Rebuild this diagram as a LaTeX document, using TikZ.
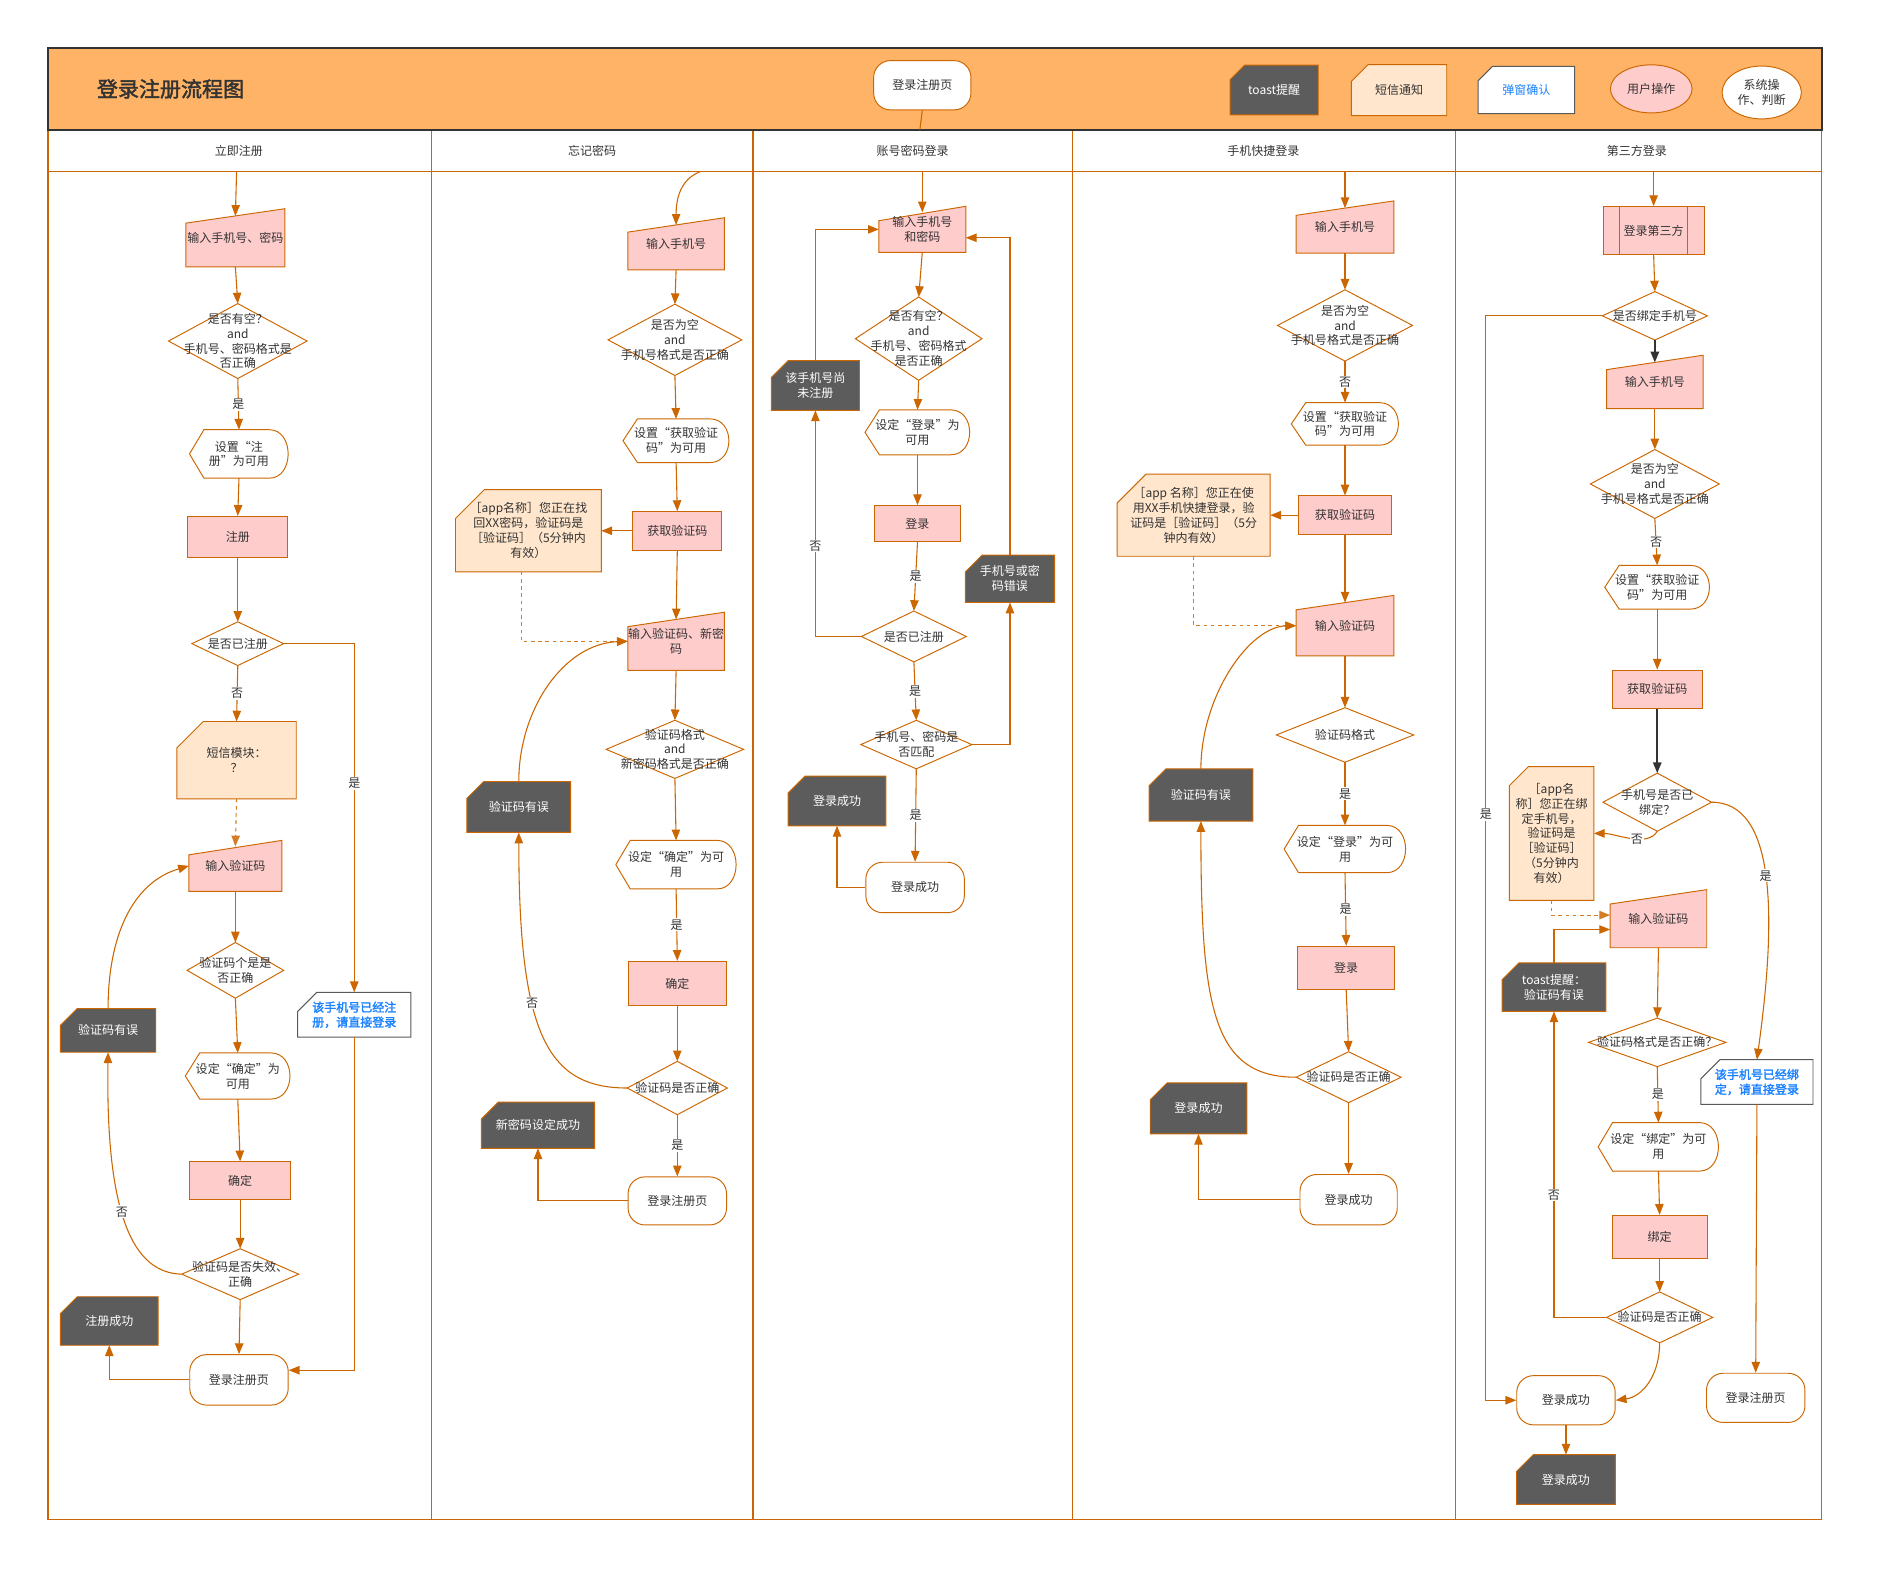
\documentclass[tikz,border=0pt]{standalone}
\usepackage{fontspec}
\setmainfont{Noto Sans CJK SC}
\newfontfamily\boldcjk[FakeBold=2]{Noto Sans CJK SC}
\usetikzlibrary{arrows.meta,shapes.geometric,calc}
\pgfdeclarelayer{bg}
\pgfsetlayers{bg,main}
\definecolor{lineor}{HTML}{CC6600}
\definecolor{hdrc}{HTML}{FFB366}
\definecolor{hdrline}{HTML}{333333}
\definecolor{pinkc}{HTML}{FFCCCC}
\definecolor{peachc}{HTML}{FFE6CC}
\definecolor{toastc}{HTML}{5C5C5C}
\definecolor{bluec}{HTML}{1A82FF}
\definecolor{txt}{HTML}{333333}
\definecolor{darkc}{HTML}{333333}

\begin{document}
\begin{tikzpicture}[x=1pt, y=-1pt,
    every node/.style={font=\fontsize{10}{12.4}\selectfont, text=txt},
    base/.style={inner sep=0pt, align=center},
    sz/.style 2 args={minimum width=#1, minimum height=#2},
    proc/.style={base, draw=lineor, fill=pinkc, line width=0.8pt},
    term/.style={base, draw=lineor, fill=white, rounded corners=14pt, line width=0.8pt},
    manual/.style={base},
    dia/.style={base},
    disp/.style={base},
    sms/.style={base},
    toast/.style={base, text=white},
    popup/.style={base, text=bluec, font=\boldcjk\fontsize{10}{12.4}\selectfont},
    usr/.style={base, ellipse, draw=lineor, fill=pinkc, line width=0.8pt},
    sysop/.style={base, ellipse, draw=lineor, fill=white, line width=0.8pt},
    shp/.style={draw=lineor, line width=0.8pt},
    lane/.style={draw=lineor, line width=0.9pt},
    arr/.style={-{Triangle[length=9pt,width=7pt]}, draw=lineor, line width=0.9pt},
    dark/.style={arr, draw=darkc, line width=1.6pt},
    dashln/.style={arr, dashed, draw=lineor!85},
    lbl/.style={fill=white, inner sep=1pt}
]
\useasboundingbox (0,0) rectangle (1568,1316);

% frame and header
\begin{pgfonlayer}{bg}
\draw[lane] (40,108) rectangle (1517,1265);
\draw[lane] (40,143) -- (1517,143);
\foreach \x in {359,627,893,1212}
    \draw[lane] (\x,108) -- (\x,1265);
\fill[hdrc] (40,40) rectangle (1517,108);
\draw[line width=1.6pt, draw=hdrline] (40,40) rectangle (1517,108);
\end{pgfonlayer}

\node[font=\boldcjk\fontsize{17.5}{20}\selectfont] (ttl) at (142,74) {登录注册流程图};
\node[term, sz={81}{41}] (hpage) at (768,71) {登录注册页};
\coordinate (hbot) at (766,108);
\draw[lineor, line width=0.9pt] (hpage.south) -- (hbot);

% legend
\node[toast, sz={73}{41}] (lgToast) at (1061,75) {toast提醒};
\node[sms, sz={79}{42}] (lgSms) at (1165,75) {短信通知};
\node[popup, sz={80}{39}, font=\fontsize{10}{12.4}\selectfont] (lgPop) at (1271,75) {弹窗确认};
\node[usr, sz={68}{40}] (lgUser) at (1375,74) {用户操作};
\node[sysop, sz={66}{44}] (lgSys) at (1467,77) {系统操\\作、判断};

% lane titles
\node (ln1) at (199,126) {立即注册};
\node (ln2) at (493,126) {忘记密码};
\node (ln3) at (760,126) {账号密码登录};
\node (ln4) at (1052,126) {手机快捷登录};
\node (ln5) at (1363,126) {第三方登录};

% ---- 立即注册
\coordinate (t1) at (197,143);
\node[manual, sz={82}{48}] (a1) at (196,198) {输入手机号、密码};
\node[dia, sz={115}{62}] (a2) at (198,284) {是否有空？\\and\\手机号、密码格式是\\否正确};
\node[disp, sz={82}{40}] (a3) at (199,378) {设置“注\\册”为可用};
\node[proc, sz={83}{34}] (a4) at (198,447) {注册};
\node[dia, sz={76}{36}] (a5) at (198,536) {是否已注册};
\node[sms, sz={99}{64}] (a6) at (197,633) {短信模块：\\？};
\node[manual, sz={77}{42}] (a7) at (196,721) {输入验证码};
\node[dia, sz={80}{46}] (a8) at (196,808) {验证码个是是\\否正确};
\node[disp, sz={87}{38}] (a9) at (198,896) {设定“确定”为\\可用};
\node[proc, sz={84}{31}] (a10) at (200,983) {确定};
\node[dia, sz={97}{42}] (a11) at (200,1061) {验证码是否失效、\\正确};
\node[term, sz={82}{42}] (a12) at (199,1149) {登录注册页};
\node[toast, sz={81}{40}] (a13) at (91,1100) {注册成功};
\node[toast, sz={79}{36}] (a14) at (90,858) {验证码有误};
\node[popup, sz={94}{37}] (a15) at (295,845) {该手机号已经注\\册，请直接登录};

\draw[arr] (t1) -- ([yshift=-6pt]a1.north);
\draw[arr] (a1.south) -- (a2.north);
\draw[arr] (a2.south) -- node[lbl] (a2y) {是} (a3.north);
\draw[arr] (a3.south) -- (a4.north);
\draw[arr] (a4.south) -- (a5.north);
\draw[arr] (a5.south) -- node[lbl] (a5n) {否} (a6.north);
\draw[dashln] (a6.south) -- ([yshift=-5pt]a7.north);
\draw[arr] (a7.south) -- (a8.north);
\draw[arr] (a8.south) -- (a9.north);
\draw[arr] (a9.south) -- (a10.north);
\draw[arr] (a10.south) -- (a11.north);
\draw[arr] (a11.south) -- (a12.north);
\draw[arr] (a12.west) -| (a13.south);
\draw[arr] (a5.east) -| node[lbl, pos=0.7] (a5y) {是} (a15.north);
\draw[arr] (a15.south) |- ([yshift=8pt]a12.east);
\draw[arr] (a11.west) .. controls (110,1060) and (88,1010) .. node[lbl, pos=0.55] (a11n) {否} (a14.south);
\draw[arr] (a14.north) .. controls (90,780) and (110,735) .. (a7.west);

% ---- 忘记密码
\coordinate (t2) at (583,143);
\node[manual, sz={80}{43}] (b1) at (563,203) {输入手机号};
\node[dia, sz={111}{59}] (b2) at (562,283) {是否为空\\and\\手机号格式是否正确};
\node[disp, sz={88}{36}] (b3) at (563,367) {设置“获取验证\\码”为可用};
\node[proc, sz={74}{32}] (b4) at (564,442) {获取验证码};
\node[sms, sz={121}{68}] (b5) at (440,442) {［app名称］您正在找\\回XX密码，验证码是\\［验证码］（5分钟内\\有效）};
\node[manual, sz={80}{48}] (b6) at (563,534) {输入验证码、新密\\码};
\node[dia, sz={114}{48}] (b7) at (562,624) {验证码格式\\and\\新密码格式是否正确};
\node[disp, sz={100}{40}] (b8) at (563,720) {设定“确定”为可\\用};
\node[proc, sz={82}{37}] (b9) at (564,819) {确定};
\node[dia, sz={83}{44}] (b10) at (564,906) {验证码是否正确};
\node[term, sz={82}{40}] (b11) at (564,1000) {登录注册页};
\node[toast, sz={94}{38}] (b12) at (448,937) {新密码设定成功};
\node[toast, sz={86}{42}] (b13) at (432,672) {验证码有误};

\draw[arr] (t2) .. controls (570,148) and (563,160) .. ([yshift=-6pt]b1.north);
\draw[arr] (b1.south) -- (b2.north);
\draw[arr] (b2.south) -- (b3.north);
\draw[arr] (b3.south) -- (b4.north);
\draw[arr] (b4.west) -- (b5.east);
\draw[arr] (b4.south) -- ([yshift=-6pt]b6.north);
\draw[dashln] ([xshift=-6pt]b5.south) |- (b6.west);
\draw[arr] (b6.south) -- (b7.north);
\draw[arr] (b7.south) -- (b8.north);
\draw[arr] (b8.south) -- node[lbl] (b8y) {是} (b9.north);
\draw[arr] (b9.south) -- (b10.north);
\draw[arr] (b10.south) -- node[lbl] (b10y) {是} (b11.north);
\draw[arr] (b11.west) -| (b12.south);
\draw[arr] (b10.west) .. controls (455,906) and (432,860) .. node[lbl, pos=0.62] (b10n) {否} (b13.south);
\draw[arr] (b13.north) .. controls (432,590) and (470,536) .. (b6.west);

% ---- 账号密码登录
\coordinate (t3) at (768,143);
\node[manual, sz={72}{38}] (c1) at (768,191) {输入手机号\\和密码};
\node[dia, sz={105}{69}] (c2) at (765,282) {是否有空？\\and\\手机号、密码格式\\是否正确};
\node[disp, sz={87}{37}] (c3) at (764,360) {设定“登录”为\\可用};
\node[proc, sz={72}{30}] (c4) at (764,436) {登录};
\node[dia, sz={87}{42}] (c5) at (761,530) {是否已注册};
\node[toast, sz={73}{41}] (c6) at (679,321) {该手机号尚\\未注册};
\node[dia, sz={92}{40}] (c7) at (763,620) {手机号、密码是\\否匹配};
\node[toast, sz={74}{39}] (c8) at (841,482) {手机号或密\\码错误};
\node[term, sz={82}{42}] (c9) at (762,739) {登录成功};
\node[toast, sz={81}{41}] (c10) at (697,667) {登录成功};

\draw[arr] (t3) -- ([yshift=-5pt]c1.north);
\draw[arr] (c1.south) -- (c2.north);
\draw[arr] (c2.south) -- (c3.north);
\draw[arr] (c3.south) -- (c4.north);
\draw[arr] (c4.south) -- node[lbl] (c4y) {是} (c5.north);
\draw[arr] (c5.west) -| node[lbl, pos=0.7] (c5n) {否} (c6.south);
\draw[arr] (c6.north) |- (c1.west);
\draw[arr] (c5.south) -- node[lbl] (c5y) {是} (c7.north);
\draw[arr] (c7.east) -| (c8.south);
\draw[arr] (c8.north) |- ([yshift=-7pt]c1.east);
\draw[arr] (c7.south) -- node[lbl] (c7y) {是} (c9.north);
\draw[arr] (c9.west) -| (c10.south);

% ---- 手机快捷登录
\coordinate (t4) at (1120,143);
\node[manual, sz={81}{43}] (d1) at (1120,189) {输入手机号};
\node[dia, sz={112}{59}] (d2) at (1120,271) {是否为空\\and\\手机号格式是否正确};
\node[disp, sz={89}{35}] (d3) at (1120,353) {设置“获取验证\\码”为可用};
\node[proc, sz={77}{32}] (d4) at (1120,429) {获取验证码};
\node[sms, sz={127}{68}] (d5) at (994,429) {［app 名称］您正在使\\用XX手机快捷登录，验\\证码是［验证码］（5分\\钟内有效）};
\node[manual, sz={81}{50}] (d6) at (1120,521) {输入验证码};
\node[dia, sz={114}{45}] (d7) at (1120,612) {验证码格式};
\node[disp, sz={101}{39}] (d8) at (1120,707) {设定“登录”为可\\用};
\node[proc, sz={81}{36}] (d9) at (1121,806) {登录};
\node[dia, sz={87}{42}] (d10) at (1123,897) {验证码是否正确};
\node[term, sz={81}{42}] (d11) at (1123,999) {登录成功};
\node[toast, sz={80}{42}] (d12) at (998,923) {登录成功};
\node[toast, sz={86}{43}] (d13) at (1000,662) {验证码有误};

\draw[arr] (t4) -- ([yshift=-6pt]d1.north);
\draw[arr] (d1.south) -- (d2.north);
\draw[arr] (d2.south) -- node[lbl] (d2n) {否} (d3.north);
\draw[arr] (d3.south) -- (d4.north);
\draw[arr] (d4.west) -- (d5.east);
\draw[arr] (d4.south) -- ([yshift=-6pt]d6.north);
\draw[dashln] (d5.south) |- (d6.west);
\draw[arr] (d6.south) -- (d7.north);
\draw[arr] (d7.south) -- node[lbl] (d7y) {是} (d8.north);
\draw[arr] (d8.south) -- node[lbl] (d8y) {是} (d9.north);
\draw[arr] (d9.south) -- (d10.north);
\draw[arr] (d10.south) -- (d11.north);
\draw[arr] (d11.west) -| (d12.south);
\draw[arr] (d10.west) .. controls (1010,897) and (1000,840) .. (d13.south);
\draw[arr] (d13.north) .. controls (1000,580) and (1040,522) .. (d6.west);

% ---- 第三方登录
\coordinate (t5) at (1377,143);
\node[proc, sz={84}{40}] (e1) at (1377,192) {登录第三方};
\draw[shp] ([xshift=14pt]e1.north west) -- ([xshift=14pt]e1.south west);
\draw[shp] ([xshift=-14pt]e1.north east) -- ([xshift=-14pt]e1.south east);
\node[dia, sz={87}{40}] (e2) at (1378,263) {是否绑定手机号};
\node[manual, sz={80}{44}] (e3) at (1378,318) {输入手机号};
\node[dia, sz={107}{57}] (e4) at (1378,403) {是否为空\\and\\手机号格式是否正确};
\node[disp, sz={87}{36}] (e5) at (1380,489) {设置“获取验证\\码”为可用};
\node[proc, sz={75}{32}] (e6) at (1380,574) {获取验证码};
\node[dia, sz={90}{48}] (e7) at (1380,668) {手机号是否已\\绑定？};
\node[sms, sz={70}{111}] (e8) at (1292,694) {［app名\\称］您正在绑\\定手机号，\\验证码是\\［验证码］\\（5分钟内\\有效）};
\node[manual, sz={80}{48}] (e9) at (1381,765) {输入验证码};
\node[toast, sz={86}{40}] (e10) at (1294,822) {toast提醒：\\验证码有误};
\node[dia, sz={114}{40}] (e11) at (1380,868) {验证码格式是否正确？};
\node[disp, sz={100}{40}] (e12) at (1381,955) {设定“绑定”为可\\用};
\node[proc, sz={79}{36}] (e13) at (1382,1030) {绑定};
\node[dia, sz={88}{42}] (e14) at (1382,1097) {验证码是否正确};
\node[term, sz={82}{41}] (e15) at (1304,1166) {登录成功};
\node[toast, sz={82}{41}] (e16) at (1304,1232) {登录成功};
\node[popup, sz={93}{37}] (e17) at (1463,901) {该手机号已经绑\\定，请直接登录};
\node[term, sz={82}{41}] (e18) at (1462,1164) {登录注册页};

\draw[arr] (t5) -- (e1.north);
\draw[arr] (e1.south) -- (e2.north);
\draw[dark] (e2.south) -- ([yshift=-6pt]e3.north);
\draw[arr] (e3.south) -- (e4.north);
\draw[arr] (e4.south) -- node[lbl] (e4n) {否} (e5.north);
\draw[arr] (e5.south) -- (e6.north);
\draw[dark] (e6.south) -- (e7.north);
\draw[arr] (e7.south) .. controls (1372,706) and (1345,694) .. node[lbl, pos=0.4] (e7n) {否} (e8.east);
\draw[arr] (e7.east) .. controls (1478,668) and (1480,760) .. node[lbl] (e7y) {是} (e17.north);
\draw[arr] (e17.south) -- (e18.north);
\draw[dashln] (e8.south) |- ([yshift=3pt]e9.west);
\draw[arr] (e10.north) |- ([yshift=-9pt]e9.west);
\draw[arr] (e9.south) -- (e11.north);
\draw[arr] (e11.south) -- node[lbl] (e11y) {是} (e12.north);
\draw[arr] (e12.south) -- (e13.north);
\draw[arr] (e13.south) -- (e14.north);
\draw[arr] (e14.west) -| node[lbl, pos=0.7] (e14n) {否} (e10.south);
\draw[arr] (e14.south) .. controls (1382,1145) and (1368,1163) .. (e15.east);
\draw[arr] (e2.west) -- ++(-97,0) |- node[lbl, pos=0.23] (e2y) {是} (e15.west);
\draw[arr] (e15.south) -- (e16.north);

% outlines of the special shapes
\begin{pgfonlayer}{bg}
\foreach \n in {a1,a7,b1,b6,c1,d1,d6,e3,e9}
    \draw[shp, fill=pinkc] (\n.south west) -- (\n.south east) -- (\n.north east)
        -- ([yshift=-12pt]\n.north west) -- cycle;
\foreach \n in {a2,a5,a8,a11,b2,b7,b10,c2,c5,c7,d2,d7,d10,e2,e4,e7,e11,e14}
    \draw[shp, fill=white] (\n.west) -- (\n.north) -- (\n.east) -- (\n.south) -- cycle;
\foreach \n in {a3,a9,b3,b8,c3,d3,d8,e5,e12}
    \draw[shp, fill=white] (\n.west) -- ([xshift=12pt]\n.north west)
        -- ([xshift=-16pt]\n.north east)
        .. controls ([xshift=5pt]\n.north east) and ([xshift=5pt]\n.south east)
        .. ([xshift=-16pt]\n.south east) -- ([xshift=12pt]\n.south west) -- cycle;
\foreach \n/\c in {lgToast/12pt,a13/14pt,a14/14pt,b12/14pt,b13/14pt,c6/14pt,c8/14pt,
        c10/14pt,d12/14pt,d13/14pt,e10/14pt,e16/14pt}
    \draw[shp, fill=toastc] ([yshift=-\c]\n.north west) -- ([xshift=\c]\n.north west)
        -- (\n.north east) -- (\n.south east) -- (\n.south west) -- cycle;
\foreach \n/\c in {lgSms/14pt,a6/22pt,b5/24pt,d5/24pt,e8/16pt}
    \draw[shp, fill=peachc] ([yshift=-\c]\n.north west) -- ([xshift=\c]\n.north west)
        -- (\n.north east) -- (\n.south east) -- (\n.south west) -- cycle;
\foreach \n/\c in {lgPop/12pt,a15/16pt,e17/16pt}
    \draw[shp, draw=gray!70!black, fill=white] ([yshift=-\c]\n.north west)
        -- ([xshift=\c]\n.north west) -- (\n.north east) -- (\n.south east)
        -- (\n.south west) -- cycle;
\end{pgfonlayer}

\end{tikzpicture}
\end{document}
